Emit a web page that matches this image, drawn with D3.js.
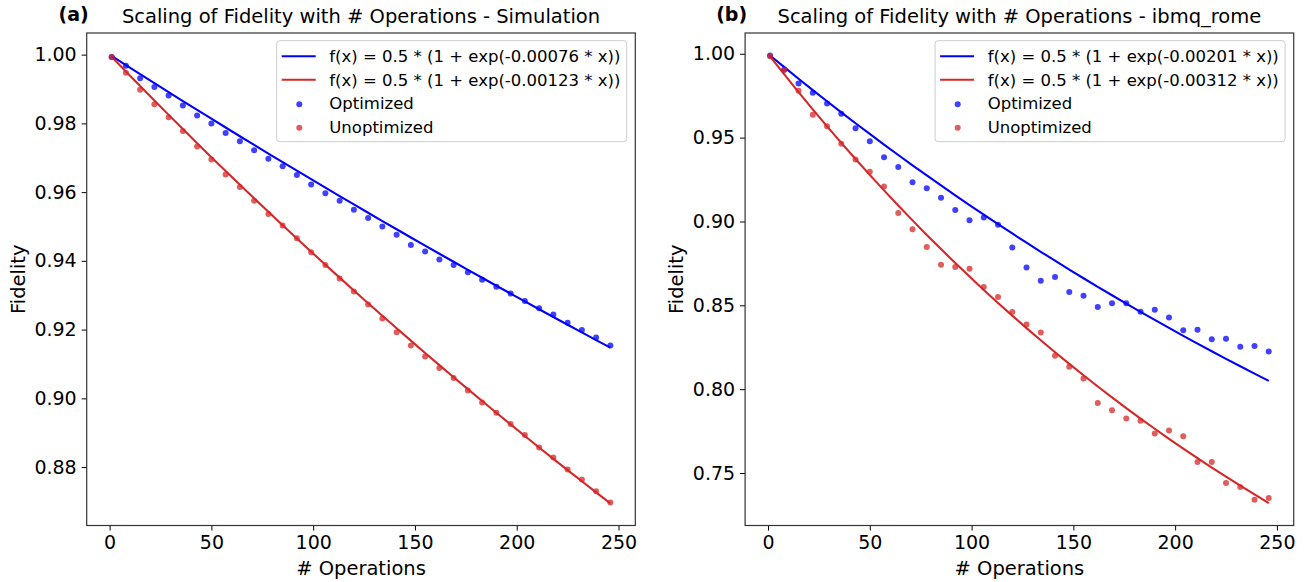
<!DOCTYPE html>
<html>
<head>
<meta charset="utf-8">
<script src="https://d3js.org/d3.v7.min.js"></script>
<style>
  body { margin: 0; background: #fff; }
  text { font-family: "DejaVu Sans", sans-serif; fill: #000; }
</style>
</head>
<body>
<svg width="1314" height="582"></svg>
<script>
// number of operations (same for both panels)
var ops = [1, 8, 15, 22, 29, 36, 43, 50, 57, 64, 71, 78, 85, 92, 99, 106, 113, 120,
  127, 134, 141, 148, 155, 162, 169, 176, 183, 190, 197, 204, 211, 218, 225, 232, 239, 246];

// (a) simulation
var simOpt = [0.9993, 0.9968, 0.9931, 0.9906, 0.9881, 0.9852, 0.9823, 0.9800, 0.9772, 0.9748,
  0.9722, 0.9697, 0.9675, 0.9650, 0.9622, 0.9597, 0.9575, 0.9549, 0.9525, 0.9500,
  0.9476, 0.9446, 0.9427, 0.9404, 0.9388, 0.9367, 0.9345, 0.9325, 0.9305, 0.9283,
  0.9262, 0.9244, 0.9220, 0.9199, 0.9177, 0.9154];
var simUnopt = [0.9993, 0.9947, 0.9898, 0.9856, 0.9818, 0.9778, 0.9733, 0.9695, 0.9651, 0.9615,
  0.9575, 0.9536, 0.9503, 0.9466, 0.9425, 0.9388, 0.9349, 0.9311, 0.9273, 0.9232,
  0.9192, 0.9154, 0.9122, 0.9088, 0.9059, 0.9023, 0.8988, 0.8958, 0.8925, 0.8893,
  0.8857, 0.8828, 0.8793, 0.8764, 0.8730, 0.8697];

// (b) ibmq_rome
var romeOpt = [0.9990, 0.9906, 0.9823, 0.9767, 0.9703, 0.9642, 0.9556, 0.9479, 0.9383, 0.9325,
  0.9234, 0.9198, 0.9142, 0.9069, 0.9007, 0.9023, 0.8981, 0.8845, 0.8725, 0.8647,
  0.8669, 0.8579, 0.8557, 0.8490, 0.8513, 0.8513, 0.8461, 0.8473, 0.8428, 0.8352,
  0.8354, 0.8297, 0.8300, 0.8253, 0.8257, 0.8225];
var romeUnopt = [0.9985, 0.9903, 0.9779, 0.9636, 0.9568, 0.9464, 0.9369, 0.9296, 0.9208, 0.9051,
  0.8953, 0.8848, 0.8742, 0.8728, 0.8718, 0.8609, 0.8549, 0.8460, 0.8386, 0.8338,
  0.8199, 0.8133, 0.8064, 0.7918, 0.7875, 0.7825, 0.7811, 0.7736, 0.7753, 0.7719,
  0.7566, 0.7566, 0.7441, 0.7417, 0.7341, 0.7351];

// fitted decay rates shown in the legends
var simRates = [0.00076, 0.00123];
var romeRates = [0.00201, 0.00312];

var xTicks = [0, 50, 100, 150, 200, 250];
var simYTicks = [0.88, 0.90, 0.92, 0.94, 0.96, 0.98, 1.00];
var romeYTicks = [0.75, 0.80, 0.85, 0.90, 0.95, 1.00];

var svg = d3.select("svg");
var axTop = 33, axBottom = 525.5, axW = 548.6;

function fitLabel(k) {
  return "f(x) = 0.5 * (1 + exp(-" + k.toFixed(5) + " * x))";
}

function panel(left, tag, title, opt, unopt, rates, yTicks, yDomain) {
  var g = svg.append("g");
  var x = d3.scaleLinear().domain([-11.25, 258.25]).range([left, left + axW]);
  var y = d3.scaleLinear().domain(yDomain).range([axBottom, axTop]);

  // axes
  var xa = g.append("g").attr("transform", "translate(0," + axBottom + ")")
    .call(d3.axisBottom(x).tickValues(xTicks).tickFormat(d3.format("d")).tickSize(5).tickPadding(5));
  var ya = g.append("g").attr("transform", "translate(" + left + ",0)")
    .call(d3.axisLeft(y).tickValues(yTicks).tickFormat(d3.format(".2f")).tickSize(5).tickPadding(5));
  [xa, ya].forEach(function(a) {
    a.select(".domain").remove();
    a.selectAll("text").style("font-size", "19px").attr("fill", "#000");
    a.selectAll("line").attr("stroke", "#000").attr("stroke-width", 1);
  });

  // fit lines
  var colors = ["#0000ff", "#d62728"];
  rates.forEach(function(k, j) {
    var line = d3.line()
      .x(function(d) { return x(d); })
      .y(function(d) { return y(0.5 * (1 + Math.exp(-k * d))); });
    g.append("path").datum(ops).attr("d", line)
      .attr("fill", "none").attr("stroke", colors[j]).attr("stroke-width", 2.1);
  });

  // scatter
  var dotColors = ["#0000ff", "#d62728"];
  [opt, unopt].forEach(function(vals, j) {
    g.append("g").selectAll("circle").data(vals).enter().append("circle")
      .attr("cx", function(d, i) { return x(ops[i]); })
      .attr("cy", function(d) { return y(d); })
      .attr("r", 3)
      .attr("fill", dotColors[j])
      .attr("fill-opacity", 0.75);
  });

  // frame
  g.append("rect").attr("x", left).attr("y", axTop).attr("width", axW).attr("height", axBottom - axTop)
    .attr("fill", "none").attr("stroke", "#333").attr("stroke-width", 1.2);

  // titles
  g.append("text").attr("x", left + axW / 2).attr("y", 23).attr("text-anchor", "middle")
    .style("font-size", "19.5px").text(title);
  g.append("text").attr("x", left + 2).attr("y", 21).attr("text-anchor", "end")
    .style("font-size", "19px").style("font-weight", "bold").text(tag);
  g.append("text").attr("x", left + axW / 2).attr("y", 575).attr("text-anchor", "middle")
    .style("font-size", "19.5px").text("# Operations");
  g.append("text").attr("transform", "translate(" + (left - 62) + "," + ((axTop + axBottom) / 2) + ") rotate(-90)")
    .attr("text-anchor", "middle").style("font-size", "19.5px").text("Fidelity");

  // legend
  var lx = left + axW - 358.6, ly = 40.7;
  var lg = g.append("g");
  lg.append("rect").attr("x", lx).attr("y", ly).attr("width", 350).attr("height", 101).attr("rx", 3)
    .attr("fill", "#fff").attr("fill-opacity", 0.8).attr("stroke", "#cccccc");
  var items = [
    { kind: "line", color: colors[0], label: fitLabel(rates[0]) },
    { kind: "line", color: colors[1], label: fitLabel(rates[1]) },
    { kind: "dot", color: dotColors[0], label: "Optimized" },
    { kind: "dot", color: dotColors[1], label: "Unoptimized" }
  ];
  items.forEach(function(it, i) {
    var cy = ly + 15.5 + i * 23.5;
    if (it.kind === "line") {
      lg.append("line").attr("x1", lx + 5).attr("x2", lx + 39).attr("y1", cy).attr("y2", cy)
        .attr("stroke", it.color).attr("stroke-width", 2.1);
    } else {
      lg.append("circle").attr("cx", lx + 22.6).attr("cy", cy + 1).attr("r", 3)
        .attr("fill", it.color).attr("fill-opacity", 0.75);
    }
    lg.append("text").attr("x", lx + 52.6).attr("y", cy + 6).style("font-size", "16.5px").text(it.label);
  });
}

panel(86.7, "(a)", "Scaling of Fidelity with # Operations - Simulation",
  simOpt, simUnopt, simRates, simYTicks, [0.8630, 1.0063]);
panel(745.1, "(b)", "Scaling of Fidelity with # Operations - ibmq_rome",
  romeOpt, romeUnopt, romeRates, romeYTicks, [0.7187, 1.0124]);
</script>
</body>
</html>
